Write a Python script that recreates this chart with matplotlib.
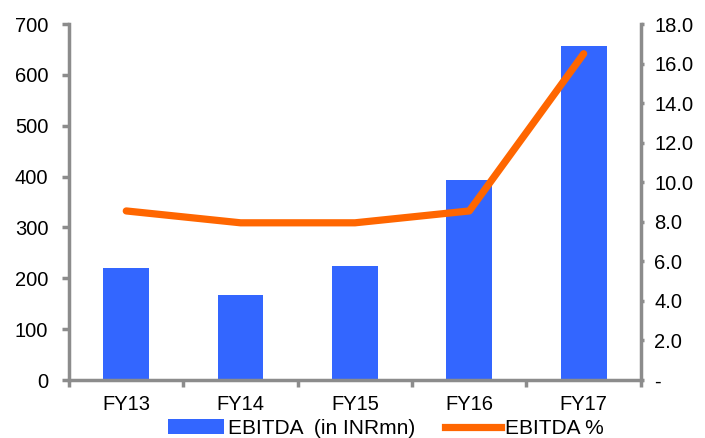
import matplotlib
matplotlib.use("Agg")
import matplotlib.pyplot as plt
from matplotlib.patches import Patch
from matplotlib.lines import Line2D
from matplotlib.ticker import FixedLocator, FuncFormatter

plt.rcParams['font.family'] = ['Liberation Sans', 'DejaVu Sans']

years = ["FY13", "FY14", "FY15", "FY16", "FY17"]
ebitda = [220, 168, 224, 393, 657]
ebitda_pct = [8.55, 7.95, 7.95, 8.55, 16.5]

bar_color = "#3366FF"
line_color = "#FF6600"
axis_gray = "#8C8C8C"
fs = 14.5

fig = plt.figure(figsize=(7.05, 4.38), dpi=100)
ax = fig.add_axes([0.098, 0.1324, 0.811, 0.8126])
x = list(range(len(years)))
ax.bar(x, ebitda, width=0.4, color=bar_color, zorder=2)
ax.set_xlim(-0.5, len(years) - 0.5)
ax.set_ylim(0, 700)
ax.set_yticks(range(0, 701, 100))

ax2 = ax.twinx()
ax2.plot(x, ebitda_pct, color=line_color, linewidth=5.2, solid_capstyle='round', zorder=3)
ax2.set_ylim(0, 18)
ax2.set_yticks([i * 2 for i in range(10)])
ax2.yaxis.set_major_formatter(FuncFormatter(lambda v, p: "-" if v == 0 else f"{v:.1f}"))

for a in (ax, ax2):
    for s in a.spines.values():
        s.set_visible(False)
    a.tick_params(labelsize=fs, colors=axis_gray, labelcolor="black", width=2.5)

ax.spines['left'].set_visible(True)
ax.spines['bottom'].set_visible(True)
ax2.spines['right'].set_visible(True)
for s in (ax.spines['left'], ax.spines['bottom'], ax2.spines['right']):
    s.set_color(axis_gray)
    s.set_linewidth(2.5)

ax.set_xticks(x)
ax.set_xticklabels(years)
ax.tick_params(axis='x', length=0, pad=11)
ax.xaxis.set_minor_locator(FixedLocator([i + 0.5 for i in range(-1, len(years))]))
ax.tick_params(axis='x', which='minor', length=5, width=2.5, color=axis_gray)
ax.tick_params(axis='y', length=5, pad=10)
ax2.tick_params(axis='y', length=2.5, pad=7)

handles = [Patch(facecolor=bar_color, edgecolor='none'),
           Line2D([0], [0], color=line_color, linewidth=5.2)]
fig.legend(handles, ["EBITDA  (in INRmn)", "EBITDA %"], loc='center',
           bbox_to_anchor=(0.5475, 0.022), ncol=2, frameon=False, fontsize=15,
           handlelength=2.7, handleheight=0.67, handletextpad=0.2,
           columnspacing=1.4, borderpad=0.1)

fig.savefig("out.png", dpi=100)
